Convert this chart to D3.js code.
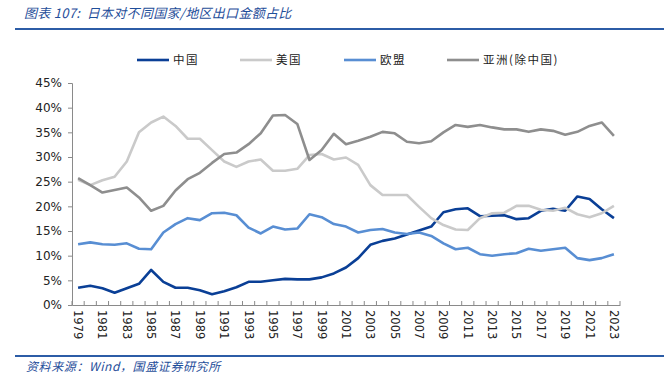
<!DOCTYPE html>
<meta charset="utf-8">
<style>
body { margin: 0; background: #fff; }
text { font-family: "DejaVu Sans", sans-serif; }
.cjk { font-family: "Noto Sans CJK SC", sans-serif; }
</style>
<body>
<script src="https://d3js.org/d3.v7.min.js"></script>
<script>
var width = 664,
    height = 384;

// data, percent of Japan's exports
var years = d3.range(1979, 2024);
var china = [3.5,3.9,3.4,2.5,3.4,4.3,7.1,4.7,3.5,3.5,3.0,2.2,2.8,3.6,4.7,4.7,5.0,
  5.3,5.2,5.2,5.6,6.4,7.6,9.5,12.2,13.0,13.5,14.3,15.1,15.9,18.8,19.4,19.6,
  18.0,18.1,18.2,17.4,17.6,19.1,19.5,19.1,22.0,21.5,19.4,17.6];
var usa = [25.4,24.3,25.3,26.0,29.1,35.0,37.0,38.2,36.3,33.7,33.7,31.4,29.1,28.0,29.1,29.5,27.2,
  27.2,27.6,30.4,30.6,29.5,29.9,28.4,24.3,22.3,22.3,22.3,19.9,17.6,16.2,15.3,15.2,
  17.6,18.6,18.7,20.1,20.1,19.3,19.1,19.7,18.4,17.8,18.6,20.1];
var eu = [12.3,12.7,12.3,12.2,12.5,11.4,11.3,14.7,16.4,17.6,17.2,18.6,18.7,18.2,15.7,14.5,15.9,
  15.3,15.5,18.4,17.8,16.4,15.9,14.7,15.2,15.4,14.7,14.4,14.7,14.0,12.5,11.3,11.6,
  10.3,10.0,10.3,10.5,11.4,11.0,11.3,11.6,9.5,9.1,9.5,10.3];
var asia = [25.7,24.3,22.8,23.3,23.8,21.8,19.1,20.1,23.2,25.5,26.8,28.8,30.6,30.9,32.6,34.8,38.4,
  38.5,36.7,29.4,31.4,34.7,32.6,33.3,34.1,35.1,34.8,33.1,32.8,33.2,35.0,36.5,36.1,
  36.5,36.0,35.6,35.6,35.1,35.6,35.3,34.5,35.1,36.3,37.0,34.3];
var seriesNames = ["中国", "美国", "欧盟", "亚洲(除中国)"];
var seriesColors = ["#0a3f96", "#cacaca", "#588ed3", "#8e8e8e"];
var yTicks = [0, 5, 10, 15, 20, 25, 30, 35, 40, 45];

var series = [china, usa, eu, asia];

var svg = d3.select("body").append("svg")
    .attr("width", width)
    .attr("height", height);

// title and frame lines
svg.append("text")
    .attr("class", "cjk")
    .attr("x", 24).attr("y", 18)
    .style("font-size", "13px")
    .style("font-style", "italic")
    .style("letter-spacing", "0.3px")
    .style("white-space", "pre")
    .style("fill", "#1f4e9a")
    .text("图表 107:  日本对不同国家/地区出口金额占比");
svg.append("line")
    .attr("x1", 15).attr("x2", 664).attr("y1", 29).attr("y2", 29)
    .style("stroke", "#2c5ca6").style("stroke-width", 2);
svg.append("line")
    .attr("x1", 15).attr("x2", 664).attr("y1", 356).attr("y2", 356)
    .style("stroke", "#2c5ca6").style("stroke-width", 2);
svg.append("text")
    .attr("class", "cjk")
    .attr("x", 26).attr("y", 371)
    .style("font-size", "12px")
    .style("font-style", "italic")
    .style("letter-spacing", "0.6px")
    .style("fill", "#1f4e9a")
    .text("资料来源：Wind，国盛证券研究所");

var x = d3.scaleBand()
    .domain(years)
    .range([72, 620]);
var y = d3.scaleLinear()
    .domain([0, 45])
    .range([305, 83]);

var axisColor = "#8a8a8a";

// y axis
var yAxis = svg.append("g")
    .attr("transform", "translate(72,0)")
    .call(d3.axisLeft(y).tickValues(yTicks).tickSize(4).tickFormat(function(d) { return d + "%"; }));
yAxis.select(".domain").style("stroke", axisColor);
yAxis.selectAll(".tick line").style("stroke", axisColor);
yAxis.selectAll("text")
    .attr("x", -10)
    .style("font-family", "DejaVu Sans")
    .style("font-size", "12px")
    .style("fill", "#222");

// x axis, labels rotated, ticks between categories
var xAxis = svg.append("g")
    .attr("transform", "translate(0,305)")
    .call(d3.axisBottom(x).tickValues(years.filter(function(d) { return (d - 1979) % 2 == 0; })).tickSize(0).tickSizeOuter(0));
xAxis.select(".domain").style("stroke", axisColor);
xAxis.selectAll("text")
    .attr("transform", "rotate(90)")
    .attr("x", 5).attr("y", 0).attr("dy", "0.35em")
    .style("text-anchor", "start")
    .style("font-family", "DejaVu Sans")
    .style("font-size", "11.5px")
    .style("fill", "#222");
svg.append("g").selectAll("line")
    .data(years.concat([null]))
    .enter().append("line")
      .attr("x1", function(d) { return d === null ? x.range()[1] : x(d); })
      .attr("x2", function(d) { return d === null ? x.range()[1] : x(d); })
      .attr("y1", 305).attr("y2", 301)
      .style("stroke", axisColor);

// lines
var line = d3.line()
    .x(function(d, i) { return x(years[i]) + x.bandwidth() / 2; })
    .y(function(d) { return y(d); });

svg.append("g").selectAll("path")
    .data(series)
    .enter().append("path")
      .attr("d", line)
      .style("fill", "none")
      .style("stroke", function(d, i) { return seriesColors[i]; })
      .style("stroke-width", 2.6)
      .style("stroke-linejoin", "round");

// legend
var legendX = [137, 240, 344, 447];
var lg = svg.append("g").selectAll("g")
    .data(seriesNames)
    .enter().append("g")
      .attr("transform", function(d, i) { return "translate(" + legendX[i] + ",60)"; });
lg.append("line")
    .attr("x1", 0).attr("x2", 32)
    .style("stroke", function(d, i) { return seriesColors[i]; })
    .style("stroke-width", 2.6);
lg.append("text")
    .attr("class", "cjk")
    .attr("x", 36).attr("dy", "0.35em")
    .style("font-size", "11.5px")
    .style("letter-spacing", "1.5px")
    .style("fill", "#222")
    .text(function(d) { return d; });

</script>
</body>
</html>
